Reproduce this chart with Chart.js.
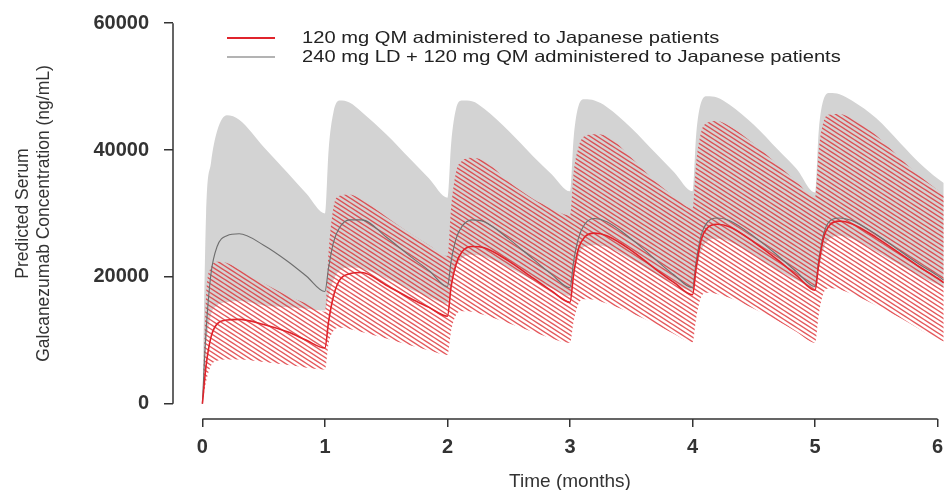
<!DOCTYPE html>
<html>
<head>
<meta charset="utf-8">
<title>Predicted Serum Galcanezumab Concentration</title>
<script src="https://cdn.jsdelivr.net/npm/chart.js@4.4.1/dist/chart.umd.min.js"></script>
<style>
    html, body { margin: 0; padding: 0; background: #fff; overflow: hidden; }
    #wrap { width: 944px; height: 490px; overflow: hidden; }
    canvas { display: block; }
</style>
</head>
<body>
<div id="wrap"><canvas id="chart" width="967" height="490"></canvas></div>
<script>
// Time in months (same grid for every series)
const months = [
    0, 0.03, 0.07, 0.12, 0.2, 0.3, 0.5, 0.7, 0.85,
    1, 1.03, 1.07, 1.12, 1.2, 1.3, 1.5, 1.7, 1.85,
    2, 2.03, 2.07, 2.12, 2.2, 2.3, 2.5, 2.7, 2.85,
    3, 3.03, 3.07, 3.12, 3.2, 3.3, 3.5, 3.7, 3.85,
    4, 4.03, 4.07, 4.12, 4.2, 4.3, 4.5, 4.7, 4.85,
    5, 5.03, 5.07, 5.12, 5.2, 5.3, 5.5, 5.7, 5.85,
    6, 6.05
];

// 120 mg QM - median (ng/mL)
const qmMedian = [
    0, 6000, 10500, 12600, 13200, 13300, 12500, 11300, 10000,
    8800, 13000, 17000, 19500, 20500, 20700, 18700, 16600, 15200,
    13800, 18500, 22000, 24000, 24800, 24600, 22500, 19800, 17800,
    16000, 20500, 24500, 26300, 26900, 26500, 24200, 21200, 19100,
    17200, 21500, 25800, 27700, 28300, 27900, 25500, 22600, 20200,
    17900, 22000, 26200, 28200, 28800, 28400, 26200, 23600, 21600,
    19800, 19100
];
// 120 mg QM - prediction interval
const qmUpper = [
    0, 17000, 21500, 22400, 22200, 21200, 19000, 17000, 15800,
    14500, 24000, 31000, 32800, 33000, 32200, 29500, 26800, 25000,
    23300, 31000, 36500, 38300, 38800, 38300, 35000, 32300, 30800,
    29700, 36500, 40500, 42200, 42500, 42200, 38800, 35000, 32700,
    30800, 38000, 42800, 44300, 44600, 43800, 41000, 37600, 35000,
    32500, 40000, 44500, 45600, 45700, 45000, 42300, 38600, 36000,
    33700, 33000
];
const qmLower = [
    0, 3500, 6000, 6800, 7000, 7000, 6600, 6100, 5700,
    5400, 9500, 11500, 12000, 11800, 11300, 10300, 9200, 8400,
    7700, 11500, 14000, 14600, 14500, 14000, 12700, 11300, 10300,
    9600, 13000, 15800, 16500, 16400, 15800, 14300, 12500, 11000,
    9700, 13500, 16800, 17500, 17300, 16700, 15000, 13000, 11300,
    9600, 14000, 17500, 18200, 18000, 17300, 15500, 13500, 11800,
    10200, 9800
];

// 240 mg LD + 120 mg QM - median
const ldMedian = [
    0, 11500, 20500, 24800, 26500, 26800, 25000, 22400, 20100,
    17700, 21500, 25500, 27800, 29000, 29000, 26300, 23200, 21000,
    18500, 22500, 26000, 28000, 29000, 28700, 26000, 22800, 20400,
    18300, 22500, 26200, 28300, 29200, 28700, 26000, 22700, 20300,
    18300, 22500, 26500, 28600, 29300, 28900, 26400, 23300, 20800,
    18500, 22700, 26800, 28800, 29300, 28900, 26700, 24000, 22000,
    20200, 19500
];
// 240 mg LD + 120 mg QM - prediction interval
const ldUpper = [
    0, 30000, 38000, 43000, 45500, 44800, 40500, 36300, 33100,
    30000, 40000, 46000, 47800, 47500, 46000, 42500, 38500, 35500,
    32500, 41000, 46500, 47800, 47700, 46500, 43000, 39000, 36200,
    33500, 42000, 47000, 48000, 47800, 46800, 43500, 39500, 36500,
    33500, 42500, 47500, 48500, 48300, 47200, 44000, 40000, 37000,
    33300, 43000, 48000, 49000, 48800, 47800, 45000, 41000, 38000,
    35500, 34800
];
const ldLower = [
    0, 9000, 14000, 15500, 16000, 16200, 15500, 15200, 15000,
    14700, 17000, 19500, 21000, 21500, 21300, 19800, 18000, 16800,
    15800, 18500, 21500, 23000, 23500, 23200, 21500, 19500, 18200,
    17000, 20000, 23300, 24800, 25000, 24700, 22800, 20500, 19000,
    17800, 20500, 24000, 25600, 26000, 25600, 23500, 21000, 19500,
    18200, 21000, 24500, 26000, 26500, 26000, 24000, 21800, 20200,
    18800, 18300
];

const xTicks = [0, 1, 2, 3, 4, 5, 6];
const yTicks = [0, 20000, 40000, 60000];
const legendLabels = [
    '120 mg QM administered to Japanese patients',
    '240 mg LD + 120 mg QM administered to Japanese patients'
];

const RED = '#e0242c';
const GREY_LINE = '#6e6e6e';
const AXIS = '#333';

function points(values) {
    return values.map((v, i) => ({ x: months[i], y: v }));
}

// diagonal red hatching, transparent between the lines
function makeHatch() {
    const w = 14, h = 9;
    const c = document.createElement('canvas');
    c.width = w;
    c.height = h;
    const g = c.getContext('2d');
    g.strokeStyle = 'rgba(222, 50, 55, 0.82)';
    g.lineWidth = 1.45;
    for (let k = -4; k <= 4; k++) {
        const off = k * h / 2;
        g.beginPath();
        g.moveTo(-w, -h + off);
        g.lineTo(2 * w, 2 * h + off);
        g.stroke();
    }
    return g.createPattern(c, 'repeat');
}

// R style axes: lines only span the first to last tick
const rAxes = {
    id: 'rAxes',
    afterDatasetsDraw(chart) {
        const { ctx, chartArea, scales } = chart;
        ctx.save();
        ctx.strokeStyle = AXIS;
        ctx.lineWidth = 1.5;
        ctx.beginPath();
        ctx.moveTo(chartArea.left, scales.y.getPixelForValue(yTicks[0]));
        ctx.lineTo(chartArea.left, scales.y.getPixelForValue(yTicks[yTicks.length - 1]));
        ctx.moveTo(scales.x.getPixelForValue(xTicks[0]), chartArea.bottom);
        ctx.lineTo(scales.x.getPixelForValue(xTicks[xTicks.length - 1]), chartArea.bottom);
        ctx.stroke();
        ctx.restore();
    }
};

// legend inside the plot, top left
const insideLegend = {
    id: 'insideLegend',
    afterDraw(chart) {
        const ctx = chart.ctx;
        const rows = [
            { y: 38, color: RED, width: 2 },
            { y: 57, color: '#9a9a9a', width: 1.5 }
        ];
        ctx.save();
        rows.forEach((r, i) => {
            ctx.strokeStyle = r.color;
            ctx.lineWidth = r.width;
            ctx.beginPath();
            ctx.moveTo(227, r.y);
            ctx.lineTo(275, r.y);
            ctx.stroke();

            ctx.save();
            ctx.translate(302, r.y);
            ctx.scale(1.22, 1);
            ctx.font = '16.5px "Liberation Sans", Arial, sans-serif';
            ctx.fillStyle = '#222';
            ctx.textBaseline = 'middle';
            ctx.fillText(legendLabels[i], 0, 0);
            ctx.restore();
        });
        ctx.restore();
    }
};

document.addEventListener('DOMContentLoaded', function() {
    const hatch = makeHatch();
    const line = { pointRadius: 0, cubicInterpolationMode: 'monotone' };

    new Chart(document.getElementById('chart'), {
        type: 'line',
        data: {
            datasets: [
                { ...line, label: 'ld lower', data: points(ldLower), borderWidth: 0, fill: false, order: 6 },
                { ...line, label: 'ld upper', data: points(ldUpper), borderWidth: 0,
                  backgroundColor: '#d3d3d3', fill: { target: 0 }, order: 5 },
                { ...line, label: 'qm lower', data: points(qmLower), borderWidth: 0, fill: false, order: 4 },
                { ...line, label: 'qm upper', data: points(qmUpper), borderWidth: 0,
                  backgroundColor: hatch, fill: { target: 2 }, order: 3 },
                { ...line, label: legendLabels[1], data: points(ldMedian), borderColor: GREY_LINE,
                  borderWidth: 1.1, fill: false, order: 2 },
                { ...line, label: legendLabels[0], data: points(qmMedian), borderColor: RED,
                  borderWidth: 1.6, fill: false, order: 1 }
            ]
        },
        options: {
            responsive: false,
            animation: false,
            layout: { padding: { top: 8, left: 0, right: 0, bottom: 0 } },
            plugins: {
                legend: { display: false },
                tooltip: { enabled: false }
            },
            scales: {
                x: {
                    type: 'linear',
                    min: -0.24,
                    max: 6.24,
                    border: { display: false },
                    grid: { drawOnChartArea: false, drawTicks: true, tickLength: 8, color: AXIS, lineWidth: 1.5 },
                    afterBuildTicks: s => { s.ticks = xTicks.map(v => ({ value: v })); },
                    afterFit: s => { s.height = 71; s.paddingLeft = 0; s.paddingRight = 0; },
                    ticks: {
                        padding: 8,
                        color: '#333',
                        font: { family: '"Liberation Sans", Arial, sans-serif', size: 20, weight: 'bold' },
                        callback: v => String(v)
                    },
                    title: {
                        display: true,
                        text: 'Time (months)',
                        color: '#333',
                        padding: { top: 0, bottom: -1 },
                        font: { family: '"Liberation Sans", Arial, sans-serif', size: 19, lineHeight: 1 }
                    }
                },
                y: {
                    min: -2400,
                    max: 62400,
                    border: { display: false },
                    grid: { drawOnChartArea: false, drawTicks: true, tickLength: 9, color: AXIS, lineWidth: 1.5 },
                    afterBuildTicks: s => { s.ticks = yTicks.map(v => ({ value: v })); },
                    afterFit: s => { s.width = 173; s.paddingTop = 0; s.paddingBottom = 0; },
                    ticks: {
                        padding: 15,
                        color: '#333',
                        font: { family: '"Liberation Sans", Arial, sans-serif', size: 20, weight: 'bold' },
                        callback: v => String(v)
                    },
                    title: {
                        display: true,
                        text: ['Predicted Serum', 'Galcanezumab Concentration (ng/mL)'],
                        color: '#333',
                        padding: { top: 12.5, bottom: 0 },
                        font: { family: '"Liberation Sans", Arial, sans-serif', size: 17.5, lineHeight: 1.2 }
                    }
                }
            }
        },
        plugins: [rAxes, insideLegend]
    });
});
</script>
</body>
</html>
